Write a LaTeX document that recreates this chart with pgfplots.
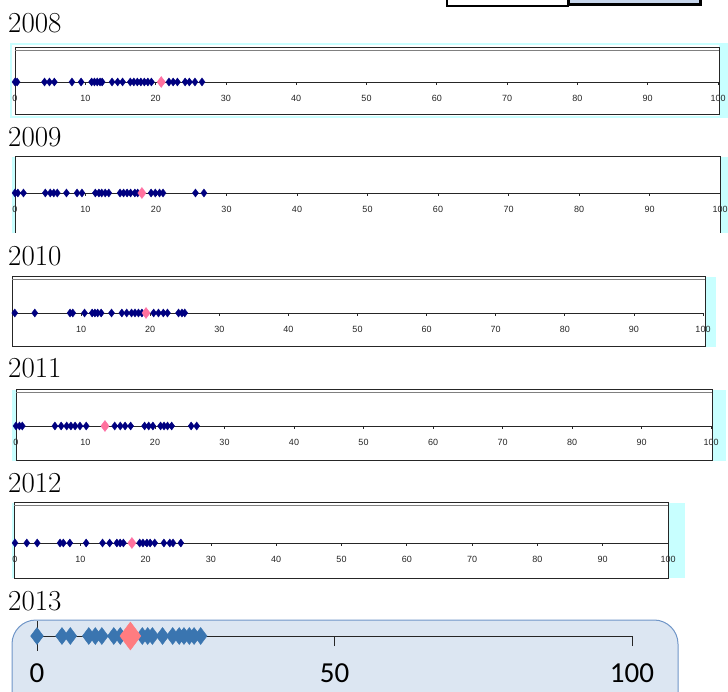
\documentclass[border=0pt]{standalone}
\usepackage{pgfplots}
\pgfplotsset{compat=1.18}
\usepackage{fontspec}
\newfontfamily\xlfont{Liberation Sans}
\newfontfamily\calfont{Carlito}
\definecolor{navy}{RGB}{0,0,128}
\definecolor{pinkm}{RGB}{255,110,170}
\definecolor{cyanbg}{RGB}{200,255,255}
\definecolor{xlblue}{RGB}{58,117,176}
\definecolor{xlpink}{RGB}{255,124,128}
\definecolor{boxfill}{RGB}{220,230,242}
\definecolor{boxline}{RGB}{112,150,200}
\definecolor{topblue}{RGB}{198,213,236}

\pgfplotsset{
  strip/.style={
    scale only axis, anchor=south west, height=20pt,
    xmin=0, xmax=100, ymin=0, ymax=1, clip=false,
    axis x line=bottom, axis y line=none,
    x axis line style={-, line width=0.9pt, black!85},
    xtick={0,10,...,100}, tick align=outside, major tick length=3pt,
    xtick style={black!85, line width=0.8pt},
    /pgf/number format/assume math mode=true,
    xticklabel style={font=\xlfont\fontsize{9}{10}\selectfont, text=black!85, yshift=-7pt},
  },
  navyd/.style={only marks, mark=diamond*, mark size=4pt, mark options={fill=navy, draw=navy}},
  pinkd/.style={only marks, mark=diamond*, mark size=5.5pt, mark options={fill=pinkm!70!xlpink, draw=pinkm}},
}

\begin{document}
\begin{tikzpicture}[x=1pt, y=1pt]
\begin{scope}
\clip (0,0) rectangle (728,691);

% top box, cut off
\draw[line width=1.5pt, fill=white] (447,685) rectangle (568,700);
\draw[line width=3pt, fill=topblue] (568,686) rectangle (700,700);

% year titles
\foreach \yr/\bl in {2008/33, 2009/147, 2010/266, 2011/378, 2012/493, 2013/610}
  \node[anchor=base west, inner sep=0pt, font=\fontsize{29}{30}\selectfont] at (8,691-\bl) {\yr};

% frames 2008
\draw[cyanbg, line width=1.5pt, fill=white] (11,574) rectangle (727,647);
\fill[cyanbg] (719,574) rectangle (728,647);
\draw[black!85, line width=1pt] (15,576) rectangle (719,643);
\draw[black!50, line width=0.8pt] (15,640.5) -- (719,640.5);
% frames 2009
\fill[cyanbg] (12,458) rectangle (728,534);
\fill[white] (15,458) rectangle (720,534);
\draw[black!85, line width=1pt] (15,458) -- (15,534) -- (720,534) -- (720,458);
% frames 2010
\fill[cyanbg] (705,344) rectangle (716,414);
\draw[black!85, line width=1pt, fill=white] (12,344) rectangle (705,414);
\draw[black!50, line width=0.8pt] (12,411.5) -- (705,411.5);
% frames 2011
\fill[cyanbg] (12,230) rectangle (726,301);
\draw[black!85, line width=1pt, fill=white] (16,230) rectangle (712,301);
\draw[black!50, line width=0.8pt] (16,298.5) -- (712,298.5);
% frames 2012
\fill[cyanbg] (12,113) rectangle (685,188);
\draw[black!85, line width=1pt, fill=white] (14,113) rectangle (668,188);
\draw[black!50, line width=0.8pt] (14,185.5) -- (668,185.5);
% frame 2013
\draw[boxline, line width=1pt, fill=boxfill, rounded corners=24pt] (12,-40) rectangle (678,71);
\draw[black!85, line width=0.8pt] (37,70) -- (37,40);

% 2008
\begin{axis}[strip, at={(15pt,609pt)}, width=703pt]
\addplot[navyd] coordinates {(0,0) (0.3,0) (4.2,0) (4.9,0) (5.6,0) (8.1,0) (9.4,0) (10.9,0) (11.3,0) (11.7,0) (12.1,0) (12.4,0) (13.8,0) (14.6,0) (15.3,0) (16.4,0) (16.9,0) (17.4,0) (17.9,0) (18.4,0) (18.9,0) (19.4,0) (21.9,0) (22.5,0) (23.1,0) (24.2,0) (24.8,0) (25.6,0) (26.6,0)};
\addplot[pinkd] coordinates {(20.8,0)};
\end{axis}

% 2009
\begin{axis}[strip, at={(15pt,498pt)}, width=705pt]
\addplot[navyd] coordinates {(0,0) (0.4,0) (1.2,0) (4.3,0) (5.0,0) (5.5,0) (6.0,0) (7.3,0) (8.8,0) (9.5,0) (11.4,0) (11.9,0) (12.3,0) (12.8,0) (13.3,0) (14.9,0) (15.4,0) (15.9,0) (16.4,0) (17.0,0) (17.4,0) (19.3,0) (19.9,0) (20.5,0) (21.0,0) (25.6,0) (26.8,0)};
\addplot[pinkd] coordinates {(18.0,0)};
\end{axis}

% 2010
\begin{axis}[strip, at={(12pt,378pt)}, width=691pt, xtick={10,20,...,100}]
\addplot[navyd] coordinates {(0.4,0) (3.3,0) (8.4,0) (8.8,0) (10.5,0) (11.6,0) (12.0,0) (12.4,0) (12.9,0) (14.4,0) (15.9,0) (16.6,0) (17.3,0) (17.8,0) (18.3,0) (18.8,0) (20.5,0) (21.2,0) (21.9,0) (22.5,0) (24.1,0) (24.6,0) (25.0,0)};
\addplot[pinkd] coordinates {(19.4,0)};
\end{axis}

% 2011
\begin{axis}[strip, at={(16pt,265pt)}, width=695pt]
\addplot[navyd] coordinates {(0,0) (0.5,0) (0.9,0) (5.6,0) (6.5,0) (7.3,0) (7.9,0) (8.5,0) (9.2,0) (10.1,0) (14.2,0) (15.0,0) (15.7,0) (16.5,0) (18.5,0) (19.1,0) (19.7,0) (20.8,0) (21.3,0) (21.8,0) (22.4,0) (25.2,0) (26.0,0)};
\addplot[pinkd] coordinates {(12.8,0)};
\end{axis}

% 2012
\begin{axis}[strip, at={(15pt,148pt)}, width=653pt]
\addplot[navyd] coordinates {(0,0) (1.8,0) (3.4,0) (6.9,0) (7.4,0) (8.4,0) (10.9,0) (13.4,0) (14.5,0) (15.6,0) (16.1,0) (16.6,0) (19.1,0) (19.6,0) (20.2,0) (20.7,0) (21.4,0) (22.8,0) (23.7,0) (24.2,0) (25.4,0)};
\addplot[pinkd] coordinates {(17.9,0)};
\end{axis}

% 2013
\begin{axis}[strip, at={(37pt,55pt)}, width=595pt,
  xtick={0,50,100}, major tick length=10pt,
  x axis line style={-, line width=0.8pt, black!85},
  xticklabel style={font=\calfont\fontsize{29}{30}\selectfont, text=black, yshift=-7pt}]
\addplot[only marks, mark=diamond*, mark size=8.5pt, mark options={fill=xlblue, draw=xlblue}] coordinates {(0,0) (4.2,0) (5.6,0) (8.7,0) (9.8,0) (10.9,0) (12.9,0) (14.0,0) (17.7,0) (18.6,0) (19.4,0) (21.1,0) (22.8,0) (23.9,0) (24.7,0) (25.6,0) (26.4,0) (27.5,0)};
\addplot[only marks, mark=diamond*, mark size=14pt, mark options={fill=xlpink, draw=xlpink}] coordinates {(15.7,0)};
\end{axis}
\end{scope}
\pgfresetboundingbox
\useasboundingbox (0,0) rectangle (728,691);
\end{tikzpicture}
\end{document}
